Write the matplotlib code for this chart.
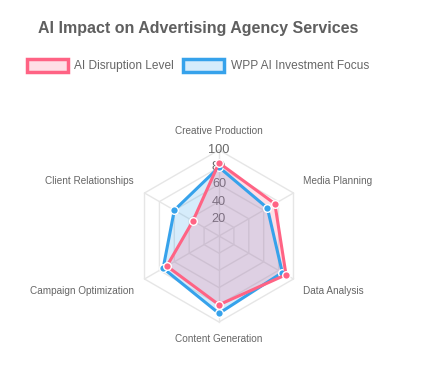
import numpy as np
import matplotlib
matplotlib.use("Agg")
import matplotlib.pyplot as plt
from matplotlib.patches import Rectangle

categories = ["Creative Production", "Media Planning", "Data Analysis",
              "Content Generation", "Campaign Optimization", "Client Relationships"]
disruption = [85, 75, 90, 80, 70, 35]
wpp_focus = [80, 65, 85, 90, 75, 60]
series_names = ["AI Disruption Level", "WPP AI Investment Focus"]
ticks = [20, 40, 60, 80, 100]

W, H = 432, 370
plt.rcParams['font.family'] = ['Liberation Sans', 'DejaVu Sans']
fig = plt.figure(figsize=(W / 100, H / 100), dpi=100)

cx, cy, R = 219, 236, 86
ax = fig.add_axes([(cx - R) / W, (H - cy - R) / H, 2 * R / W, 2 * R / H], projection='polar')
ax.set_theta_zero_location('N')
ax.set_theta_direction(-1)
ax.set_ylim(0, 100)
ax.axis('off')

n = len(categories)
theta = np.arange(n) * 2 * np.pi / n
theta_c = np.append(theta, theta[0])

grid_col = '#e6e6e6'
for t in ticks:
    ax.plot(theta_c, [t] * (n + 1), color=grid_col, lw=1, zorder=1, clip_on=False)
for th in theta:
    ax.plot([th, th], [0, 100], color=grid_col, lw=1, zorder=1, clip_on=False)

for t in ticks:
    ax.text(0, t, str(t), ha='center', va='center', fontsize=9.2, color='#666666', zorder=2)

cols = ['#FF6384', '#36A2EB']
data = [disruption, wpp_focus]
for i in [1, 0]:
    vals = np.append(data[i], data[i][0])
    ax.fill(theta_c, vals, color=cols[i], alpha=0.2, lw=0, zorder=3)
for i in [1, 0]:
    vals = np.append(data[i], data[i][0])
    z = 5 if i == 0 else 4
    ax.plot(theta_c, vals, color=cols[i], lw=2.2, zorder=z, clip_on=False)
    ax.plot(theta, data[i], 'o', color=cols[i], ms=5.5, mec='white', mew=1, zorder=z, clip_on=False)

def ftext(x, y, s, **kw):
    fig.text(x / W, 1 - y / H, s, **kw)

lab_pos = [(219, 131, 'center'), (303, 181, 'left'), (303, 291, 'left'),
           (219, 339, 'center'), (134, 291, 'right'), (134, 181, 'right')]
for (x, y, ha), s in zip(lab_pos, categories):
    ftext(x, y, s, ha=ha, va='center', fontsize=7.2, color='#666666')

ftext(198, 29, "AI Impact on Advertising Agency Services", ha='center', va='center',
      fontsize=11.5, fontweight='bold', color='#5f5f5f')

leg = [(27, 74), (183, 231)]
for (bx, tx), c, s in zip(leg, cols, series_names):
    fig.patches.append(Rectangle((bx / W, 1 - 72 / H), 41 / W, 13 / H, transform=fig.transFigure,
                                 facecolor=matplotlib.colors.to_rgba(c, 0.2), edgecolor=c, lw=2.5))
    ftext(tx, 66, s, ha='left', va='center', fontsize=8.6, color='#666666')

fig.savefig('out.png', dpi=100)
